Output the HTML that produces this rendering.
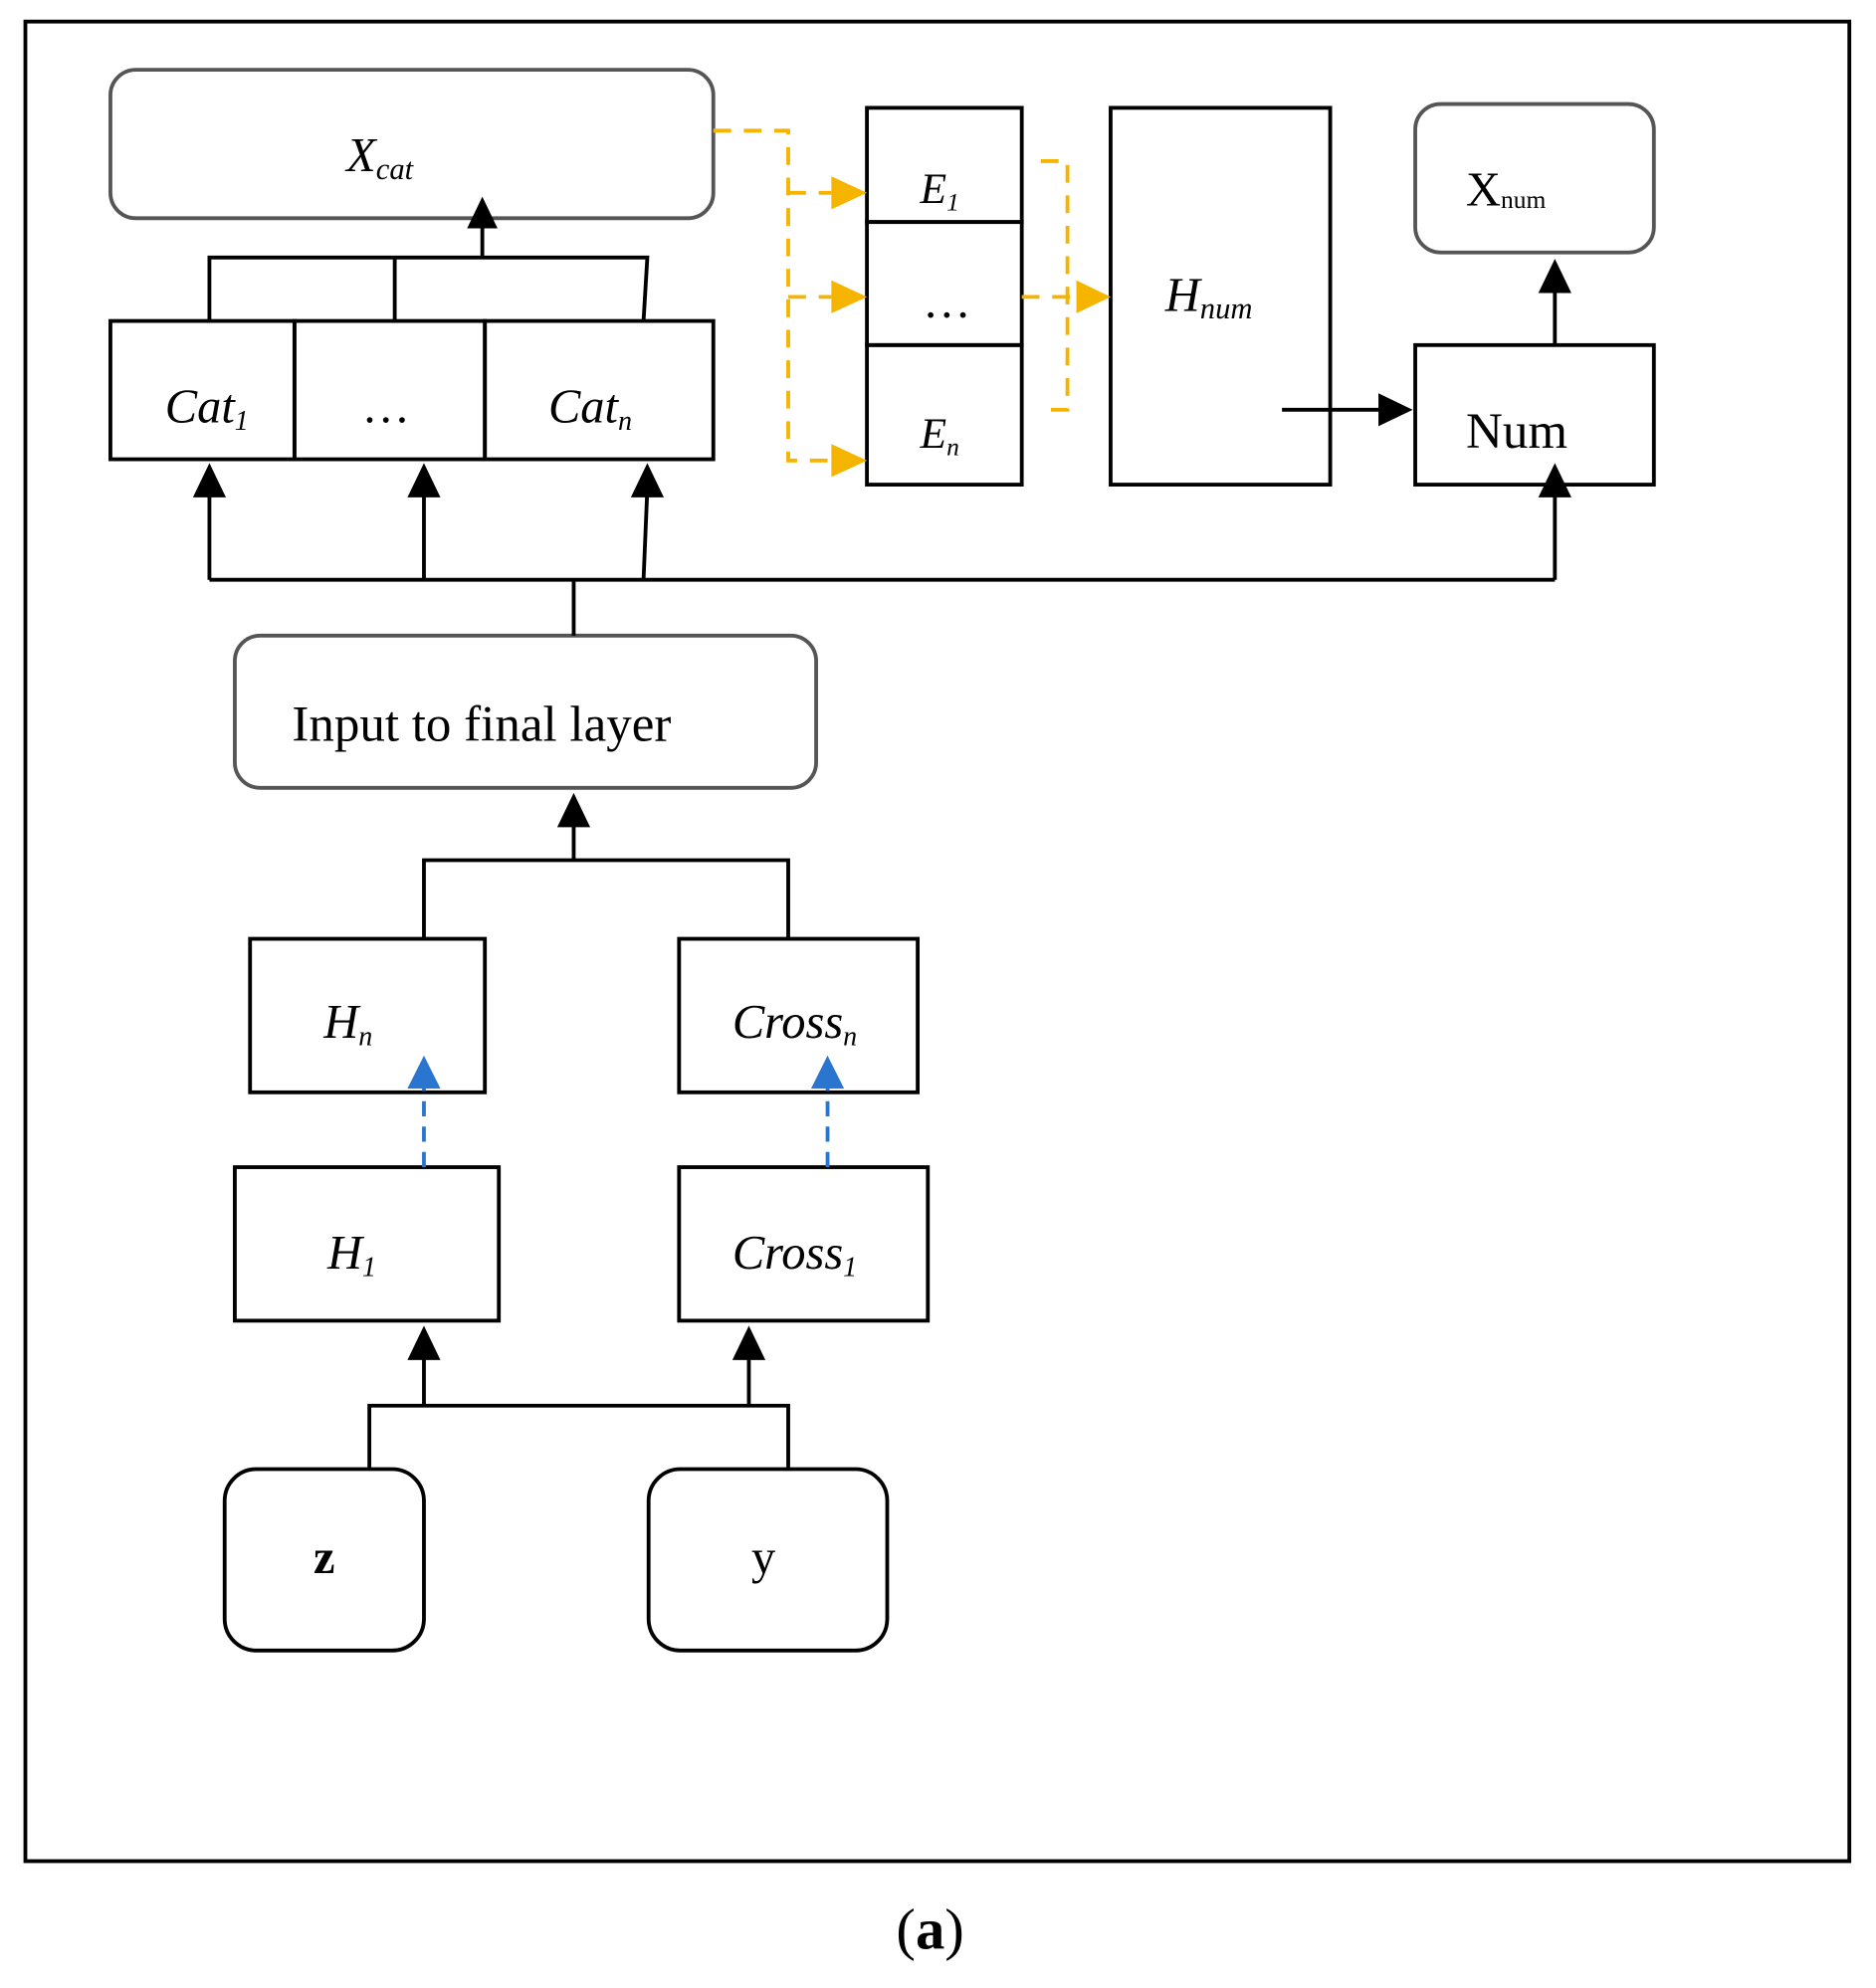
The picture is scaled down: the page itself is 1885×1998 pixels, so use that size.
<!DOCTYPE html>
<html><head><style>
html,body{margin:0;padding:0;background:#fff}
svg{display:block}
text{font-family:"Liberation Serif",serif;fill:#000}
.i{font-style:italic}
</style></head><body>
<svg width="1885" height="1998" viewBox="0 0 1478 1567" preserveAspectRatio="none" xmlns="http://www.w3.org/2000/svg">
<g fill="none" stroke="#000" stroke-width="3">
<rect x="20" y="17" width="1437" height="1450"/>
<rect x="87" y="55" width="475" height="117" rx="20" stroke="#555"/>
<rect x="87" y="253" width="145" height="109"/>
<rect x="232" y="253" width="150" height="109"/>
<rect x="382" y="253" width="180" height="109"/>
<rect x="683" y="85" width="122" height="90"/>
<rect x="683" y="175" width="122" height="97"/>
<rect x="683" y="272" width="122" height="110"/>
<rect x="875" y="85" width="173" height="297"/>
<rect x="1115" y="82" width="188" height="117" rx="20" stroke="#555"/>
<rect x="1115" y="272" width="188" height="110"/>
<rect x="185" y="501" width="458" height="120" rx="20" stroke="#555"/>
<rect x="197" y="740" width="185" height="121"/>
<rect x="535" y="740" width="188" height="121"/>
<rect x="185" y="920" width="208" height="121"/>
<rect x="535" y="920" width="196" height="121"/>
<rect x="177" y="1158" width="157" height="143" rx="25"/>
<rect x="511" y="1158" width="188" height="143" rx="25"/>
<polyline points="165,253 165,203 510,203 507,253"/>
<line x1="311" y1="203" x2="311" y2="253"/>
<line x1="380" y1="203" x2="380" y2="175"/>
<polyline points="165,457 1225,457"/>
<line x1="165" y1="457" x2="165" y2="385"/>
<line x1="334" y1="457" x2="334" y2="385"/>
<line x1="507" y1="457" x2="510" y2="385"/>
<line x1="1225" y1="457" x2="1225" y2="385"/>
<line x1="452" y1="457" x2="452" y2="501"/>
<line x1="1225" y1="272" x2="1225" y2="228"/>
<line x1="1010" y1="323" x2="1090" y2="323"/>
<polyline points="334,740 334,678 621,678 621,740"/>
<line x1="452" y1="678" x2="452" y2="650"/>
<polyline points="291,1158 291,1108 621,1108 621,1158"/>
<line x1="334" y1="1108" x2="334" y2="1070"/>
<line x1="590" y1="1108" x2="590" y2="1070"/>
</g>
<g fill="#000">
<polygon points="380,155 368,180 392,180"/>
<polygon points="165,365 152,392 178,392"/>
<polygon points="334,365 321,392 347,392"/>
<polygon points="510,365 497,392 523,392"/>
<polygon points="1225,365 1212,392 1238,392"/>
<polygon points="1225,204 1212,231 1238,231"/>
<polygon points="1113,323 1086,310 1086,336"/>
<polygon points="452,625 439,652 465,652"/>
<polygon points="334,1045 321,1072 347,1072"/>
<polygon points="590,1045 577,1072 603,1072"/>
</g>
<g fill="none" stroke="#f5b400" stroke-width="3" stroke-dasharray="14,10">
<polyline points="562,103 621,103 621,363 655,363"/>
<line x1="621" y1="152" x2="655" y2="152"/>
<line x1="621" y1="234" x2="655" y2="234"/>
<polyline points="820,127 841,127 841,323 820,323"/>
<line x1="805" y1="234" x2="848" y2="234"/>
</g>
<g fill="#f5b400">
<polygon points="683,152 655,139 655,165"/>
<polygon points="683,234 655,221 655,247"/>
<polygon points="683,363 655,350 655,376"/>
<polygon points="875,234 848,221 848,247"/>
</g>
<g stroke="#2a75d0" stroke-width="3" stroke-dasharray="12,8"><line x1="334" y1="920" x2="334" y2="855"/><line x1="652" y1="920" x2="652" y2="855"/></g>
<g fill="#2a75d0"><polygon points="334,832 321,858 347,858"/><polygon points="652,832 639,858 665,858"/></g>
<g font-size="38">
<text x="273" y="135" class="i">X<tspan font-size="24" dy="6">cat</tspan></text>
<text x="130" y="333" class="i">Cat<tspan font-size="22" dy="6">1</tspan></text>
<text x="285" y="333">…</text>
<text x="432" y="333" class="i">Cat<tspan font-size="22" dy="6">n</tspan></text>
<text x="725" y="160" class="i" font-size="34">E<tspan font-size="20" dy="6">1</tspan></text>
<text x="727" y="250">…</text>
<text x="725" y="353" class="i" font-size="34">E<tspan font-size="20" dy="6">n</tspan></text>
<text x="918" y="245" class="i">H<tspan font-size="24" dy="6">num</tspan></text>
<text x="1155" y="162">X<tspan font-size="20" dy="2">num</tspan></text>
<text x="1155" y="353" font-size="40">Num</text>
<text x="230" y="584" font-size="40">Input to final layer</text>
<text x="255" y="818" class="i">H<tspan font-size="22" dy="6">n</tspan></text>
<text x="577" y="818" class="i">Cross<tspan font-size="22" dy="6">n</tspan></text>
<text x="258" y="1000" class="i">H<tspan font-size="22" dy="6">1</tspan></text>
<text x="577" y="1000" class="i">Cross<tspan font-size="22" dy="6">1</tspan></text>
<text x="247" y="1240" font-weight="bold">z</text>
<text x="592" y="1240">y</text>
<text x="706" y="1536" font-size="46">(<tspan font-weight="bold">a</tspan>)</text>
</g>
</svg>
</body></html>
